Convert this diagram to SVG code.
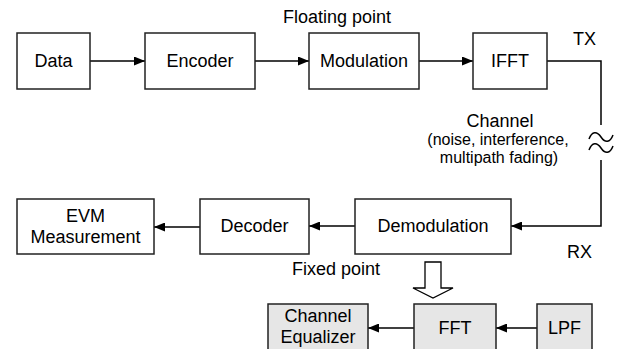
<svg xmlns="http://www.w3.org/2000/svg" width="618" height="349" viewBox="0 0 618 349">
<defs>
<marker id="ah" markerWidth="11" markerHeight="9" refX="11" refY="4.5" orient="auto" markerUnits="userSpaceOnUse">
<path d="M0,0 L11,4.5 L0,9 Z" fill="#000"/>
</marker>
<style>
.box{fill:#fff;stroke:#222;stroke-width:1.5}
.gbox{fill:#e6e6e6;stroke:#222;stroke-width:1.5}
.t{font-family:"Liberation Sans",Arial,sans-serif;font-size:18px;fill:#000;text-anchor:middle}
.lb{font-family:"Liberation Sans",Arial,sans-serif;font-size:18px;fill:#000}
.sm{font-family:"Liberation Sans",Arial,sans-serif;font-size:16px;fill:#000;text-anchor:middle}
.c{fill:none;stroke:#000;stroke-width:1.5}
</style>
</defs>
<rect width="618" height="349" fill="#fff"/>
<g id="connectors">
<line class="c" x1="90" y1="61" x2="145" y2="61" marker-end="url(#ah)"/>
<line class="c" x1="255" y1="61" x2="309" y2="61" marker-end="url(#ah)"/>
<line class="c" x1="419" y1="61" x2="473" y2="61" marker-end="url(#ah)"/>
<polyline class="c" points="547,61 601,61 601,125"/>
<path class="c" d="M589,139 C592,131 597,131 601,137 S610,143 613,135"/>
<path class="c" d="M589,150 C592,142 597,142 601,148 S610,154 613,146"/>
<polyline class="c" points="601,160 601,226 511,226" marker-end="url(#ah)"/>
<line class="c" x1="355" y1="226" x2="309" y2="226" marker-end="url(#ah)"/>
<line class="c" x1="200" y1="227" x2="154" y2="227" marker-end="url(#ah)"/>
<line class="c" x1="414" y1="328" x2="368" y2="328" marker-end="url(#ah)"/>
<line class="c" x1="537" y1="328" x2="496" y2="328" marker-end="url(#ah)"/>
<polygon points="425,262 441,262 441,288 453,288 433,298 413,288 425,288" fill="#fff" stroke="#000" stroke-width="1.3"/>
</g>
<g id="data"><rect class="box" x="17" y="33" width="73" height="56"/><text class="t" x="53.5" y="67">Data</text></g>
<g id="encoder"><rect class="box" x="145" y="33" width="110" height="56"/><text class="t" x="200" y="67">Encoder</text></g>
<g id="modulation"><rect class="box" x="309" y="33" width="110" height="56"/><text class="t" x="364" y="67">Modulation</text></g>
<g id="ifft"><rect class="box" x="473" y="33" width="74" height="56"/><text class="t" x="510" y="67">IFFT</text></g>
<g id="demodulation"><rect class="box" x="355" y="199" width="156" height="55"/><text class="t" x="433" y="232">Demodulation</text></g>
<g id="decoder"><rect class="box" x="200" y="199" width="109" height="55"/><text class="t" x="254.5" y="232">Decoder</text></g>
<g id="evm"><rect class="box" x="17" y="199" width="137" height="55"/><text class="t" x="85.5" y="222">EVM</text><text class="t" x="85.5" y="243">Measurement</text></g>
<g id="equalizer"><rect class="gbox" x="268" y="304" width="100" height="60"/><text class="t" x="318" y="322">Channel</text><text class="t" x="318" y="343">Equalizer</text></g>
<g id="fft"><rect class="gbox" x="414" y="304" width="82" height="60"/><text class="t" x="455" y="334">FFT</text></g>
<g id="lpf"><rect class="gbox" x="537" y="304" width="55" height="60"/><text class="t" x="564.5" y="334">LPF</text></g>
<g id="labels">
<text class="lb" x="283" y="23">Floating point</text>
<text class="lb" x="573" y="45">TX</text>
<text class="lb" x="567" y="258">RX</text>
<text class="lb" x="292" y="275">Fixed point</text>
<text class="t" x="500" y="127">Channel</text>
<text class="sm" x="498" y="145">(noise, interference,</text>
<text class="sm" x="499" y="163">multipath fading)</text>
</g>
</svg>
